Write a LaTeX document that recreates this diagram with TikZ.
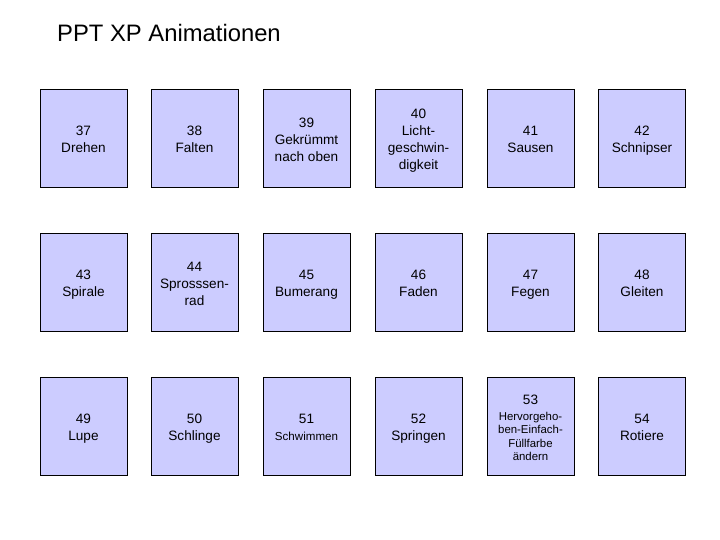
\documentclass[tikz,border=0pt]{standalone}
\usepackage{fontspec}
\setmainfont{Liberation Sans}
\newcommand{\tallstrut}{\rule{0pt}{17.9pt}}
\begin{document}
\begin{tikzpicture}
  [x=1pt,y=-1pt,
   anim/.style={rectangle,draw=black,line width=0.8pt,fill=blue!20,
     minimum width=87pt,minimum height=98pt,inner sep=0pt,align=center,
     font=\fontsize{13.6}{17}\selectfont},
   small/.style={font=\fontsize{11.4}{13.5}\selectfont}]
  \useasboundingbox (0,0) rectangle (720,540);
  \node[anchor=base west,inner sep=0pt,font=\fontsize{23.8}{28}\selectfont] (t) at (57,42) {PPT XP Animationen};

  % first row
  \node[anim] (n37) at (83.5,138) {\tallstrut 37\\Drehen\strut};
  \node[anim] (n38) at (194.5,138) {\tallstrut 38\\Falten\strut};
  \node[anim] (n39) at (306.5,138) {\tallstrut 39\\Gekrümmt\strut\\nach oben\strut};
  \node[anim] (n40) at (418.5,138) {\tallstrut 40\\Licht-\strut\\geschwin-\strut\\digkeit\strut};
  \node[anim] (n41) at (530.5,138) {\tallstrut 41\\Sausen\strut};
  \node[anim] (n42) at (642,138) {\tallstrut 42\\Schnipser\strut};

  % second row
  \node[anim] (n43) at (83.5,282) {\tallstrut 43\\Spirale\strut};
  \node[anim] (n44) at (194.5,282) {\tallstrut 44\\Sprosssen-\strut\\rad\strut};
  \node[anim] (n45) at (306.5,282) {\tallstrut 45\\Bumerang\strut};
  \node[anim] (n46) at (418.5,282) {\tallstrut 46\\Faden\strut};
  \node[anim] (n47) at (530.5,282) {\tallstrut 47\\Fegen\strut};
  \node[anim] (n48) at (642,282) {\tallstrut 48\\Gleiten\strut};

  % third row
  \node[anim] (n49) at (83.5,426) {\tallstrut 49\\Lupe\strut};
  \node[anim] (n50) at (194.5,426) {\tallstrut 50\\Schlinge\strut};
  \node[anim] (n51) at (306.5,426) {\tallstrut 51\\{\fontsize{11.6}{13}\selectfont Schwimmen}\strut};
  \node[anim] (n52) at (418.5,426) {\tallstrut 52\\Springen\strut};
  \node[anim,small] (n53) at (530.5,426) {\tallstrut{\fontsize{13.6}{17}\selectfont 53}\\[2pt]Hervorgeho-\strut\\ben-Einfach-\strut\\Füllfarbe\strut\\ändern\strut};
  \node[anim] (n54) at (642,426) {\tallstrut 54\\Rotiere\strut};

\end{tikzpicture}
\end{document}
